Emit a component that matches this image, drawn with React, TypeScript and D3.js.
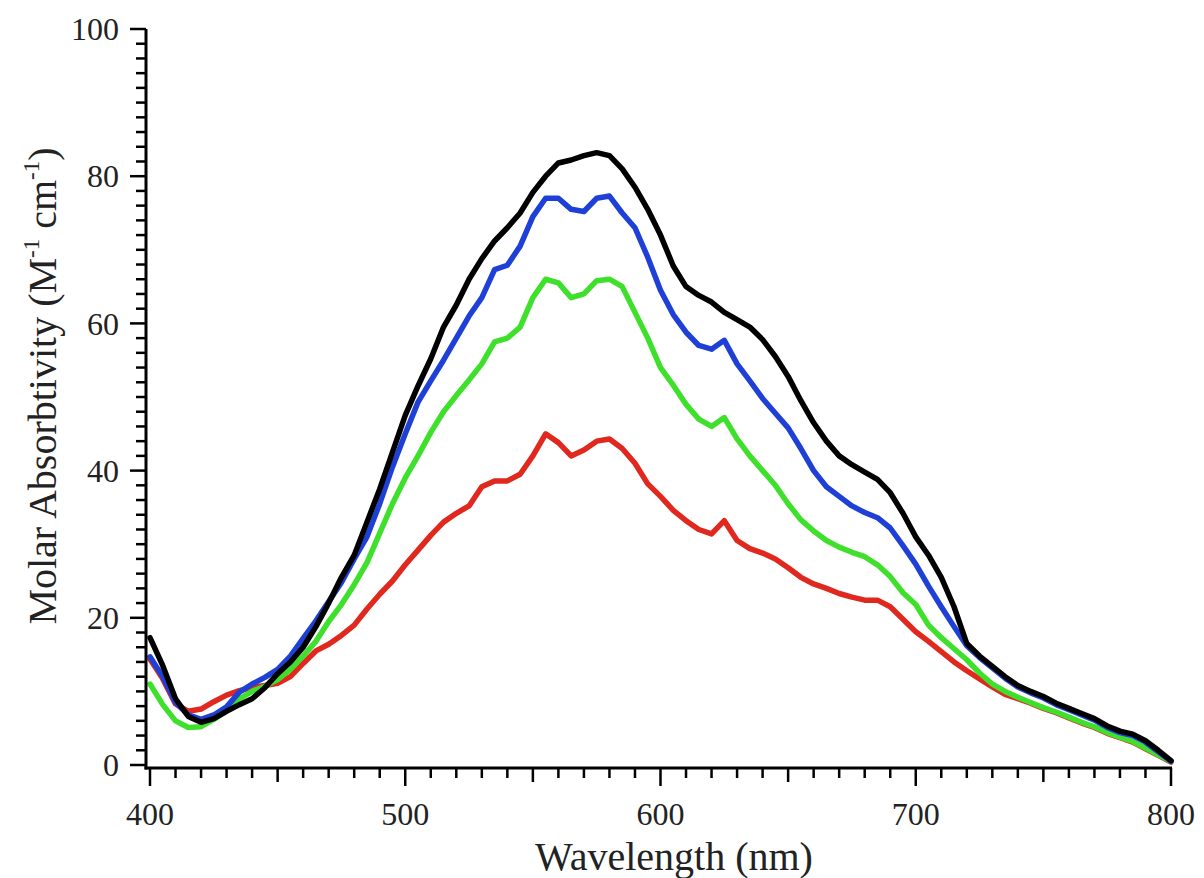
import React from 'react';
import * as d3 from 'd3';

const wavelength = [
  400, 405, 410, 415, 420, 425, 430, 435, 440, 445, 450, 455, 460, 465, 470, 475, 480, 485, 490, 495,
  500, 505, 510, 515, 520, 525, 530, 535, 540, 545, 550, 555, 560, 565, 570, 575, 580, 585, 590, 595,
  600, 605, 610, 615, 620, 625, 630, 635, 640, 645, 650, 655, 660, 665, 670, 675, 680, 685, 690, 695,
  700, 705, 710, 715, 720, 725, 730, 735, 740, 745, 750, 755, 760, 765, 770, 775, 780, 785, 790, 795, 800,
];

const blackSeries = [
  17.3, 13.5, 9.0, 6.6, 5.8, 6.3, 7.3, 8.2, 9.0, 10.5, 12.4, 14.0, 16.0, 18.8, 22.0, 25.5, 28.5, 33.0, 37.5, 42.5,
  47.5, 51.5, 55.2, 59.5, 62.5, 66.0, 68.8, 71.2, 73.0, 75.0, 77.8, 80.0, 81.8, 82.2, 82.8, 83.2, 82.8, 81.0, 78.5, 75.5,
  72.0, 67.8, 65.0, 63.8, 62.9, 61.5, 60.5, 59.5, 57.8, 55.5, 52.8, 49.5, 46.5, 44.0, 42.0, 40.8, 39.8, 38.8, 37.0, 34.2,
  31.0, 28.5, 25.5, 21.5, 16.5, 14.8, 13.4, 12.0, 10.8, 10.0, 9.3, 8.4, 7.7, 7.0, 6.3, 5.3, 4.6, 4.2, 3.3, 2.0, 0.6,
];

const blueSeries = [
  14.7, 12.0, 8.5, 6.8, 6.2, 6.8, 7.9, 9.9, 11.0, 11.9, 13.0, 14.8, 17.2, 19.6, 22.2, 24.8, 28.0, 31.0, 35.5, 40.5,
  45.0, 49.3, 52.2, 55.0, 58.0, 61.0, 63.5, 67.3, 67.9, 70.5, 74.5, 77.0, 77.0, 75.5, 75.2, 77.0, 77.3, 75.0, 73.0, 69.0,
  64.5, 61.2, 58.8, 57.0, 56.5, 57.7, 54.5, 52.2, 49.8, 47.8, 45.8, 43.0, 40.0, 37.8, 36.5, 35.2, 34.3, 33.6, 32.2, 29.8,
  27.3, 24.3, 21.5, 18.8, 16.2, 14.6, 13.2, 11.8, 10.6, 9.8, 9.1, 8.2, 7.5, 6.8, 6.1, 5.1, 4.4, 4.0, 3.1, 1.8, 0.5,
];

const greenSeries = [
  11.0, 8.2, 6.0, 5.1, 5.2, 6.2, 7.4, 9.0, 10.0, 10.7, 11.6, 13.0, 14.8, 16.8, 19.5, 21.8, 24.5, 27.5, 31.5, 35.5,
  39.0, 42.0, 45.2, 48.0, 50.2, 52.3, 54.5, 57.5, 58.0, 59.5, 63.5, 66.0, 65.5, 63.5, 64.0, 65.8, 66.0, 65.0, 61.5, 58.0,
  54.0, 51.6, 49.0, 47.0, 46.0, 47.2, 44.3, 42.0, 40.0, 38.0, 35.5, 33.3, 31.8, 30.5, 29.6, 28.9, 28.3, 27.2, 25.6, 23.4,
  21.8, 19.0, 17.3, 15.8, 14.3, 12.5, 11.0, 10.0, 9.2, 8.5, 7.8, 7.2, 6.5, 5.8, 5.2, 4.4, 3.8, 3.2, 2.3, 1.4, 0.5,
];

const redSeries = [
  14.4, 11.7, 8.3, 7.3, 7.6, 8.6, 9.5, 10.1, 10.5, 10.8, 11.1, 12.0, 13.8, 15.5, 16.4, 17.6, 19.0, 21.2, 23.2, 25.0,
  27.2, 29.2, 31.2, 33.0, 34.2, 35.2, 37.8, 38.6, 38.6, 39.5, 42.0, 45.0, 43.8, 42.0, 42.8, 44.0, 44.3, 43.0, 41.0, 38.2,
  36.5, 34.6, 33.2, 32.0, 31.4, 33.2, 30.5, 29.4, 28.8, 28.0, 26.8, 25.5, 24.6, 24.0, 23.3, 22.8, 22.4, 22.4, 21.5, 19.8,
  18.1, 16.8, 15.4, 14.0, 12.8, 11.7, 10.6, 9.6, 9.0, 8.4, 7.7, 7.1, 6.4, 5.7, 5.1, 4.3, 3.7, 3.1, 2.2, 1.3, 0.4,
];

const seriesList = [
  { name: 'red', values: redSeries, color: '#e0281e' },
  { name: 'green', values: greenSeries, color: '#3fe02c' },
  { name: 'blue', values: blueSeries, color: '#1f40d6' },
  { name: 'black', values: blackSeries, color: '#000000' },
];

const xTickLabels = [400, 500, 600, 700, 800];
const yTickLabels = [0, 20, 40, 60, 80, 100];

const FONT = "'Liberation Serif', 'Times New Roman', serif";

export default function App() {
  const W = 1204;
  const H = 878;
  const axisX = 146;
  const axisY = 768;
  const x = d3.scaleLinear().domain([400, 800]).range([150, 1171]);
  const y = d3.scaleLinear().domain([0, 100]).range([765, 29]);

  const line = d3
    .line<number>()
    .x((_, i) => x(wavelength[i]))
    .y((d) => y(d));

  const xMinor = d3.range(400, 801, 10);
  const yMinor = d3.range(0, 101, 2);

  return (
    <svg
      width={W}
      height={H}
      style={{ position: 'absolute', left: 0, top: 0, background: '#fff' }}
    >
      <rect x={0} y={0} width={W} height={H} fill="#fff" />
      {seriesList.map((s) => (
        <path
          key={s.name}
          d={line(s.values) || ''}
          fill="none"
          stroke={s.color}
          strokeWidth={5.5}
          strokeLinejoin="round"
          strokeLinecap="round"
        />
      ))}
      <line x1={axisX} x2={axisX} y1={29} y2={axisY + 1.5} stroke="#000" strokeWidth={3} />
      <line x1={axisX - 1.5} x2={1172} y1={axisY} y2={axisY} stroke="#000" strokeWidth={3} />
      {xMinor.map((v) => {
        const len = v % 100 === 0 ? 18 : v % 50 === 0 ? 14 : 10;
        return (
          <line key={'xt' + v} x1={x(v)} x2={x(v)} y1={axisY} y2={axisY + len} stroke="#000" strokeWidth={2.5} />
        );
      })}
      {yMinor.map((v) => {
        const len = v % 20 === 0 ? 16 : 10;
        return (
          <line key={'yt' + v} x1={axisX - len} x2={axisX} y1={y(v)} y2={y(v)} stroke="#000" strokeWidth={2.5} />
        );
      })}
      {xTickLabels.map((v) => (
        <text key={'xl' + v} x={x(v)} y={825} textAnchor="middle" fontFamily={FONT} fontSize={32} fill="#222">
          {v}
        </text>
      ))}
      {yTickLabels.map((v) => (
        <text
          key={'yl' + v}
          x={119}
          y={y(v)}
          dy="0.35em"
          textAnchor="end"
          fontFamily={FONT}
          fontSize={32}
          fill="#222"
        >
          {v}
        </text>
      ))}
      <text x={674} y={870} textAnchor="middle" fontFamily={FONT} fontSize={40} fill="#222">
        Wavelength (nm)
      </text>
      <text
        transform={`translate(56, 386) rotate(-90)`}
        textAnchor="middle"
        fontFamily={FONT}
        fontSize={40}
        fill="#222"
      >
        Molar Absorbtivity (M
        <tspan fontSize={23} dy={-17}>-1</tspan>
        <tspan dy={17}> cm</tspan>
        <tspan fontSize={23} dy={-17}>-1</tspan>
        <tspan dy={17}>)</tspan>
      </text>
    </svg>
  );
}
